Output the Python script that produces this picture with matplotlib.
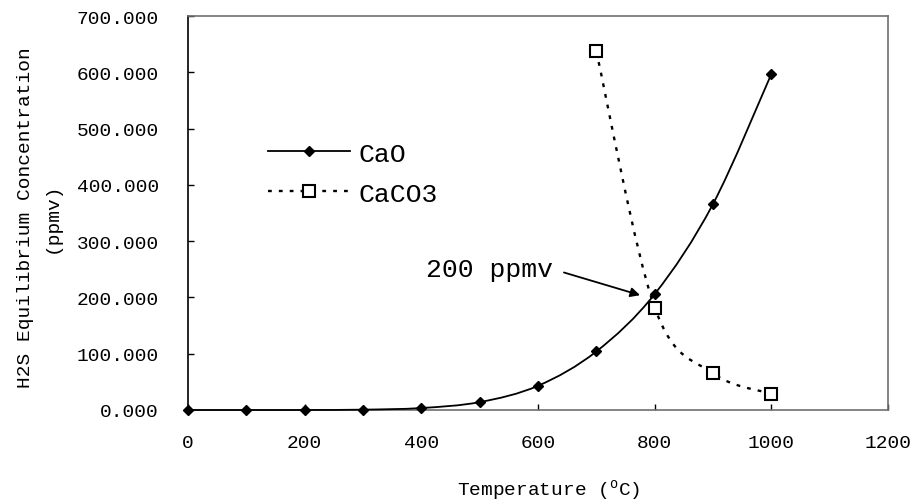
import matplotlib
matplotlib.use('Agg')
import matplotlib.pyplot as plt
import numpy as np
from matplotlib.path import Path
from matplotlib.patches import PathPatch
from matplotlib.lines import Line2D

plt.rcParams['font.family'] = ['Liberation Mono', 'DejaVu Sans Mono']
plt.rcParams['mathtext.fontset'] = 'custom'
plt.rcParams['mathtext.rm'] = 'Liberation Mono'

# equilibrium H2S vs temperature
temp_cao = [0, 100, 200, 300, 400, 500, 600, 700, 800, 900, 1000]
h2s_cao = [0.0, 0.0, 0.0, 0.6, 3.5, 14, 43, 104, 206, 366, 597]
temp_caco3 = [700, 800, 900, 1000]
h2s_caco3 = [637, 182, 65, 29]

x_ticks = [0, 200, 400, 600, 800, 1000, 1200]
y_ticks = [0, 100, 200, 300, 400, 500, 600, 700]


# smoothed line through the points (Catmull-Rom -> cubic Bezier)
def smooth_path(xs, ys):
    p = np.column_stack([xs, ys]).astype(float)
    ext = np.vstack([p[0], p, p[-1]])
    verts = [p[0]]
    codes = [Path.MOVETO]
    for i in range(1, len(ext) - 2):
        p0, p1, p2, p3 = ext[i - 1], ext[i], ext[i + 1], ext[i + 2]
        verts += [p1 + (p2 - p0) / 6.0, p2 - (p3 - p1) / 6.0, p2]
        codes += [Path.CURVE4] * 3
    return Path(verts, codes)


fig = plt.figure(figsize=(9.15, 5.02), dpi=100)
ax = fig.add_axes([0.2055, 0.1813, 0.765, 0.7848])

ax.add_patch(PathPatch(smooth_path(temp_cao, h2s_cao), fill=False,
                       edgecolor='black', lw=1.3, clip_on=False, zorder=3))
ax.add_patch(PathPatch(smooth_path(temp_caco3, h2s_caco3), fill=False,
                       edgecolor='black', lw=1.7, linestyle=(0, (1.6, 3)),
                       zorder=3))
ax.plot(temp_cao, h2s_cao, ls='none', marker='D', ms=5, color='black',
        clip_on=False, zorder=4)
ax.plot(temp_caco3, h2s_caco3, ls='none', marker='s', ms=9, mfc='white',
        mec='black', mew=1.5, clip_on=False, zorder=4)

ax.set_xlim(0, 1200)
ax.set_ylim(0, 700)
ax.set_xticks(x_ticks)
ax.set_yticks(y_ticks)
ax.set_yticklabels(['%.3f' % v for v in y_ticks])
ax.tick_params(direction='in', length=4.5, width=1, labelsize=14)
ax.tick_params(axis='x', pad=17)
ax.tick_params(axis='y', pad=21)

ax.spines['left'].set_color('black')
for s in ['top', 'right', 'bottom']:
    ax.spines[s].set_color('#707070')
for s in ax.spines.values():
    s.set_linewidth(1.2)

ax.set_xlabel('Temperature ($^{\\rm o}$C)', fontsize=14)
ax.xaxis.set_label_coords(0.515, -0.172)
ax.set_ylabel('H2S Equilibrium Concentration\n(ppmv)', fontsize=14,
              linespacing=1.75)
ax.yaxis.set_label_coords(-0.182, 0.49)

handles = [
    Line2D([], [], color='black', lw=1.3, marker='D', ms=5),
    Line2D([], [], color='black', lw=1.7, linestyle=(0, (1.6, 3)),
           marker='s', ms=9, mfc='white', mec='black', mew=1.5),
]
ax.legend(handles, ['CaO', 'CaCO3'], loc='center left',
          bbox_to_anchor=(0.114, 0.60), frameon=False, fontsize=19,
          numpoints=1, handlelength=3.1, handletextpad=0.35,
          labelspacing=0.6, borderpad=0, borderaxespad=0)

ax.annotate('200 ppmv', xy=(775, 204), xytext=(626, 250),
            ha='right', va='center', fontsize=19,
            arrowprops=dict(arrowstyle='-|>', color='black', lw=1.3,
                            relpos=(1, 0.5), shrinkA=6, shrinkB=0,
                            mutation_scale=14))

plt.savefig('out.png')
